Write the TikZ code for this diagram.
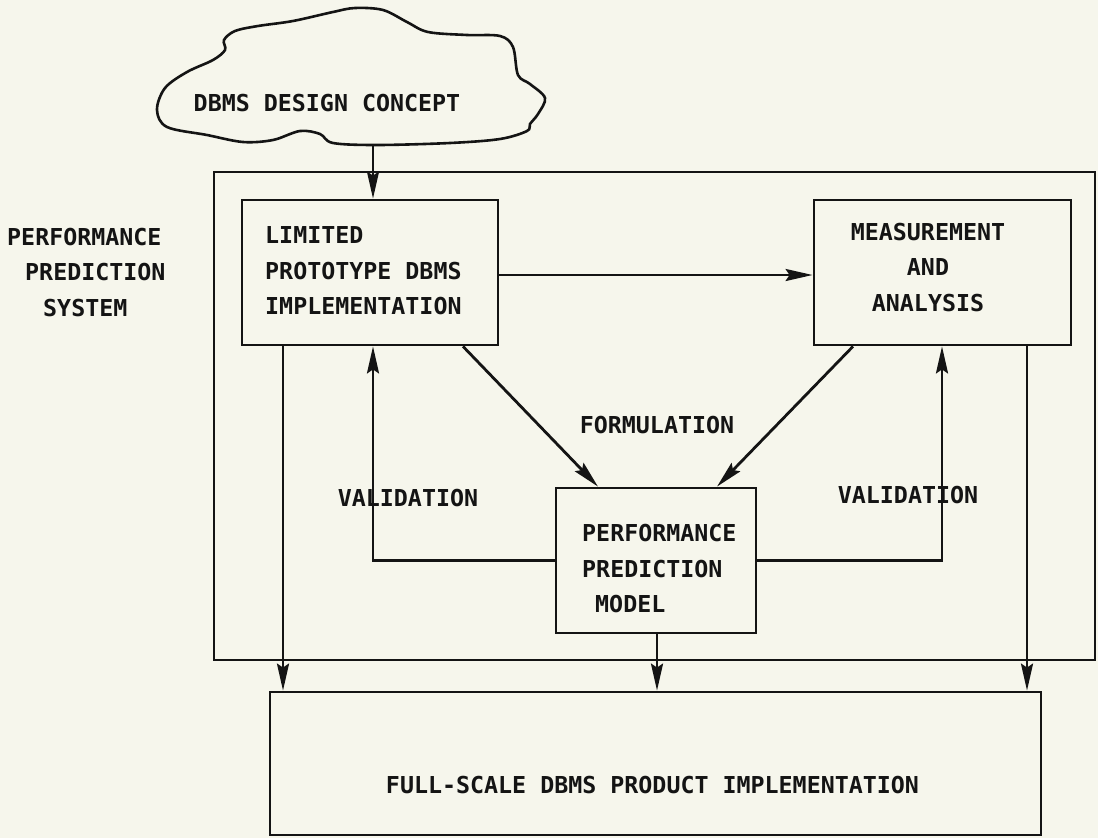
\documentclass[tikz,border=0pt]{standalone}
\usepackage{fontspec}
\setmonofont{DejaVu Sans Mono}
\usetikzlibrary{arrows.meta}
\definecolor{paper}{RGB}{246,246,236}
\definecolor{ink}{RGB}{20,20,20}
\tikzset{
  x=1pt, y=-1pt,
  pen/.style={draw=ink, line width=2.8pt, line join=miter},
  box/.style={pen, rectangle, inner sep=0pt},
  arr/.style={pen, -{Stealth[length=27pt, width=12pt, inset=4pt]}},
  lbl/.style={text=ink, inner sep=0pt,
    font=\ttfamily\bfseries\fontsize{23.3}{35.5}\selectfont},
}
\begin{document}
\begin{tikzpicture}
\useasboundingbox (0,0) rectangle (1098,838);
\fill[paper] (0,0) rectangle (1098,838);

% concept cloud
\draw[pen, line width=2.6pt] plot[smooth cycle, tension=0.55] coordinates {
  (157,110) (165,88) (187,72) (213,60) (225,50) (224,40) (235,31) (258,26)
  (293,21) (333,12) (355,8) (383,10) (407,22) (428,32) (467,35) (500,36)
  (513,47) (518,75) (530,84) (545,98) (538,114) (530,124) (527,131) (500,139)
  (450,143) (377,145) (333,143) (320,134) (300,131) (273,140) (243,142)
  (207,135) (167,127)};
\node[lbl] (concept) at (327,103) {DBMS DESIGN CONCEPT};
\coordinate (cloudbot) at (373,145);

% prediction system frame and its boxes
\node[box, minimum width=881pt, minimum height=488pt] (sys) at (654.5,416) {};
\node[box, minimum width=256pt, minimum height=145pt] (lim) at (370,272.5) {};
\node[box, minimum width=257pt, minimum height=145pt] (meas) at (942.5,272.5) {};
\node[box, minimum width=200pt, minimum height=145pt] (ppm) at (656,560.5) {};
\node[box, minimum width=771pt, minimum height=143pt] (full) at (655.5,763.5) {};

% box texts
\node[lbl, align=left, anchor=west] (limtxt) at (265,271)
  {LIMITED\\PROTOTYPE DBMS\\IMPLEMENTATION};
\node[lbl, align=center] (meastxt) at (928,267.5)
  {MEASUREMENT\\AND\\ANALYSIS};
\node[lbl, align=left, anchor=west] (ppmtxt) at (582,569)
  {PERFORMANCE\\PREDICTION\\\hspace*{13pt}MODEL};
\node[lbl] (fulltxt) at (652.5,785) {FULL-SCALE DBMS PRODUCT IMPLEMENTATION};
\node[lbl, align=left, anchor=west] (systxt) at (7,272.5)
  {PERFORMANCE\\\hspace*{18pt}PREDICTION\\\hspace*{36pt}SYSTEM};
\node[lbl] (formtxt) at (657,425) {FORMULATION};
\node[lbl] (valL) at (408,498) {VALIDATION};
\node[lbl] (valR) at (908,495) {VALIDATION};

% connector columns
\coordinate (c1) at (283,0);
\coordinate (c2) at (373,0);
\coordinate (c3) at (463,0);
\coordinate (c4) at (598,0);
\coordinate (c5) at (657,0);
\coordinate (c6) at (717,0);
\coordinate (c7) at (853,0);
\coordinate (c8) at (942,0);
\coordinate (c9) at (1027,0);

% connectors
\draw[arr] (cloudbot) -- (lim.north -| c2);
\draw[arr] (lim.east |- 0,275) -- (meas.west |- 0,275);
\draw[arr] (lim.south -| c3) -- (ppm.north -| c4);
\draw[arr] (meas.south -| c7) -- (ppm.north -| c6);
\draw[arr] (ppm.west) -- (ppm.west -| c2) -- (lim.south -| c2);
\draw[arr] (ppm.east) -- (ppm.east -| c8) -- (meas.south -| c8);
\draw[arr] (lim.south -| c1) -- (full.north -| c1);
\draw[arr] (ppm.south -| c5) -- (full.north -| c5);
\draw[arr] (meas.south -| c9) -- (full.north -| c9);
\end{tikzpicture}
\end{document}
